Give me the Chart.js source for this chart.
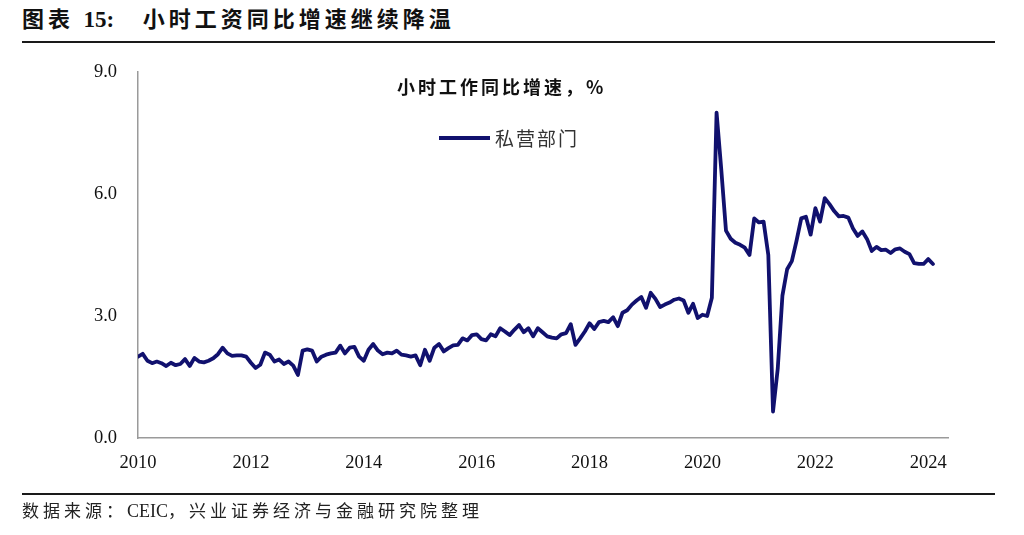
<!DOCTYPE html>
<html><head><meta charset="utf-8">
<script src="https://cdn.jsdelivr.net/npm/chart.js@4/dist/chart.umd.min.js"></script>
<style>
html,body{margin:0;padding:0;background:#fff;width:1024px;height:535px;overflow:hidden;position:relative}
.t{position:absolute;white-space:nowrap;font-family:"Liberation Serif","Noto Sans CJK SC",serif;color:#111}
.rule{position:absolute;left:22px;width:973px;height:2px;background:#1a1a1a}
.ls0{letter-spacing:0}
</style></head><body>
<div class="t" style="left:22px;top:5px;font-size:22px;font-weight:bold;letter-spacing:4px;line-height:30px">图表 <span class="ls0" style="font-size:23px">15:</span>&nbsp;&nbsp; 小时工资同比增速继续降温</div>
<div class="rule" style="top:41px"></div>
<canvas id="c" width="1024" height="535" style="position:absolute;left:0;top:0"></canvas>
<div class="t" style="left:397px;top:74px;font-size:18px;font-weight:bold;letter-spacing:3px;line-height:24px;font-family:'Noto Sans CJK SC','Liberation Sans',sans-serif">小时工作同比增速，%</div>
<div style="position:absolute;left:439px;top:136px;width:51px;height:4px;background:#11116e"></div>
<div class="t" style="left:495px;top:125px;font-size:19px;letter-spacing:2px;line-height:26px;color:#333;font-family:'Noto Sans CJK SC',sans-serif">私营部门</div>
<div class="rule" style="top:493px"></div>
<div class="t" style="left:22px;top:498px;font-size:17px;letter-spacing:4px;line-height:26px;color:#222">数据来源：<span class="ls0" style="font-size:18px">CEIC</span>，兴业证券经济与金融研究院整理</div>
<script>
// Monthly year-over-year growth of hourly earnings, private sector (%), Jan 2010 - Feb 2024
const startYear = 2010;
const yoy2010 = [2.00,2.07,1.90,1.84,1.88,1.84,1.77,1.85,1.79,1.82,1.94,1.77];
const yoy2011 = [1.97,1.88,1.86,1.90,1.96,2.06,2.22,2.08,2.02,2.03,2.03,2.00];
const yoy2012 = [1.85,1.72,1.80,2.10,2.05,1.88,1.93,1.82,1.88,1.78,1.55,2.15];
const yoy2013 = [2.18,2.15,1.88,2.00,2.05,2.08,2.10,2.27,2.08,2.22,2.24,2.00];
const yoy2014 = [1.90,2.17,2.31,2.15,2.06,2.10,2.08,2.15,2.05,2.03,2.00,2.03];
const yoy2015 = [1.79,2.17,1.90,2.22,2.31,2.13,2.21,2.28,2.29,2.45,2.40,2.53];
const yoy2016 = [2.55,2.43,2.40,2.55,2.50,2.70,2.62,2.53,2.66,2.78,2.60,2.70];
const yoy2017 = [2.50,2.70,2.60,2.50,2.47,2.45,2.55,2.58,2.80,2.29,2.45,2.62];
const yoy2018 = [2.82,2.68,2.85,2.88,2.85,2.97,2.75,3.08,3.14,3.28,3.38,3.47];
const yoy2019 = [3.20,3.57,3.42,3.22,3.28,3.33,3.40,3.43,3.38,3.08,3.30,2.95];
const yoy2020 = [3.03,3.00,3.45,8.00,6.60,5.10,4.90,4.80,4.75,4.68,4.50,5.40];
const yoy2021 = [5.30,5.32,4.50,0.65,1.70,3.50,4.15,4.35,4.85,5.40,5.44,5.00];
const yoy2022 = [5.65,5.32,5.90,5.75,5.58,5.45,5.46,5.42,5.15,4.97,5.08,4.89];
const yoy2023 = [4.60,4.70,4.62,4.63,4.55,4.64,4.66,4.58,4.52,4.30,4.28,4.28];
const yoy2024 = [4.40,4.28];
const seriesName = '私营部门';
const xTickYears = [2010,2012,2014,2016,2018,2020,2022,2024];
const yTickValues = [0,3,6,9];

const allYears = [yoy2010,yoy2011,yoy2012,yoy2013,yoy2014,yoy2015,yoy2016,yoy2017,yoy2018,yoy2019,yoy2020,yoy2021,yoy2022,yoy2023,yoy2024];
const points = [];
allYears.forEach((arr, yi) => arr.forEach((v, mi) => points.push({x: startYear + yi + mi / 12, y: v})));

const tickFont = {family: "'Liberation Serif', serif", size: 18.5};
new Chart(document.getElementById('c'), {
  type: 'line',
  data: {datasets: [{label: seriesName, data: points, borderColor: '#11116e', borderWidth: 3.8,
    pointRadius: 0, tension: 0, borderJoinStyle: 'round', borderCapStyle: 'round', fill: false}]},
  options: {
    responsive: false, animation: false, events: [],
    layout: {padding: {top: 72, right: 76, left: 0, bottom: 0}},
    plugins: {legend: {display: false}, tooltip: {enabled: false}, title: {display: false}},
    scales: {
      x: {type: 'linear', min: 2010, max: 2024.35,
        afterBuildTicks: s => { s.ticks = xTickYears.map(v => ({value: v})); },
        afterFit: s => { s.height = 97; },
        ticks: {callback: v => String(v), font: tickFont, color: '#111', padding: 14, maxRotation: 0, autoSkip: false},
        grid: {display: false, drawTicks: false},
        border: {display: true, color: '#9a9a9a', width: 1.5}},
      y: {min: 0, max: 9,
        afterBuildTicks: s => { s.ticks = yTickValues.map(v => ({value: v})); },
        afterFit: s => { s.width = 138; },
        ticks: {callback: v => Number(v).toFixed(1), font: tickFont, color: '#111', padding: 21},
        grid: {display: false, drawTicks: false},
        border: {display: true, color: '#9a9a9a', width: 1.5}}
    }
  }
});
</script>
</body></html>
